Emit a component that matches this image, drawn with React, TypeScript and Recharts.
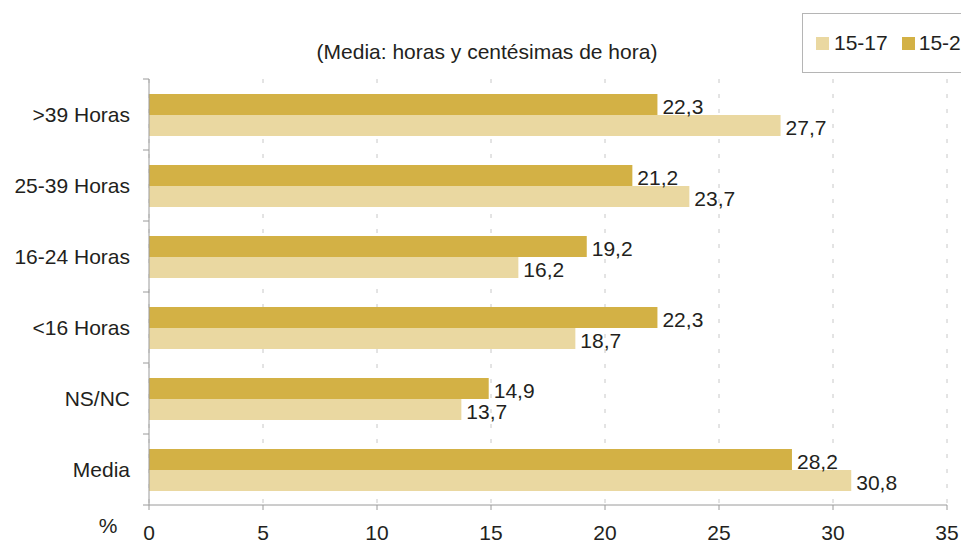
import {
  Bar,
  BarChart,
  CartesianGrid,
  LabelList,
  XAxis,
  YAxis,
} from 'recharts';

const categories = ['>39 Horas', '25-39 Horas', '16-24 Horas', '<16 Horas', 'NS/NC', 'Media'];
const values1529 = [22.3, 21.2, 19.2, 22.3, 14.9, 28.2];
const values1517 = [27.7, 23.7, 16.2, 18.7, 13.7, 30.8];
const xTicks = [0, 5, 10, 15, 20, 25, 30, 35];

const data = categories.map((name, i) => ({
  name,
  a1529: values1529[i],
  a1517: values1517[i],
}));

const LIGHT = '#EAD8A1';
const DARK = '#D3B145';
const FONT = 'Arial, "Liberation Sans", sans-serif';
const FS = 21;
const TEXT = '#231f20';
const AXIS = '#9a9a9a';
const BAND = 71;

const fmt = (v: number) => v.toFixed(1).replace('.', ',');

const CategoryTick = (props: any) => {
  const { x, y, payload, index } = props;
  const ax = x + 19;
  return (
    <g>
      <text x={x} y={y} dy="0.355em" textAnchor="end" fontSize={FS} fontFamily={FONT} fill={TEXT}>
        {payload.value}
      </text>
      <line x1={ax - 6} x2={ax} y1={y - BAND / 2} y2={y - BAND / 2} stroke={AXIS} />
      {index === categories.length - 1 && (
        <line x1={ax - 6} x2={ax} y1={y + BAND / 2} y2={y + BAND / 2} stroke={AXIS} />
      )}
    </g>
  );
};

const ValueLabel = (props: any) => {
  const { x, y, width, height, value } = props;
  return (
    <text
      x={x + width + 5}
      y={y + height / 2 + 2}
      dy="0.355em"
      fontSize={FS}
      fontFamily={FONT}
      fill={TEXT}
    >
      {fmt(value)}
    </text>
  );
};

export default function App() {
  return (
    <div
      style={{
        position: 'relative',
        width: 961,
        height: 543,
        marginBottom: -8,
        overflow: 'hidden',
        background: '#fff',
      }}
    >
      <BarChart
        layout="vertical"
        width={961}
        height={535}
        data={data}
        margin={{ top: 71, right: 22, left: 0, bottom: 0 }}
        barCategoryGap="21%"
        barGap={0}
      >
        <CartesianGrid horizontal={false} stroke="#c8c8c8" strokeDasharray="4 11" />
        <XAxis
          type="number"
          domain={[0, 35]}
          ticks={xTicks}
          height={38}
          stroke={AXIS}
          tickSize={5}
          tickMargin={15}
          tick={{ fontSize: FS, fontFamily: FONT, fill: TEXT }}
          interval={0}
        />
        <YAxis
          type="category"
          dataKey="name"
          width={141}
          stroke={AXIS}
          tickLine={false}
          tickSize={5}
          tickMargin={14}
          tick={<CategoryTick />}
          interval={0}
        />
        <Bar dataKey="a1529" fill={DARK} isAnimationActive={false}>
          <LabelList dataKey="a1529" content={<ValueLabel />} />
        </Bar>
        <Bar dataKey="a1517" fill={LIGHT} isAnimationActive={false}>
          <LabelList dataKey="a1517" content={<ValueLabel />} />
        </Bar>
        <text x={479} y={44} dy="0.355em" textAnchor="middle" fontSize={FS} fontFamily={FONT} fill={TEXT}>
          (Media: horas y centésimas de hora)
        </text>
        <text x={100} y={518} dy="0.355em" textAnchor="middle" fontSize={FS} fontFamily={FONT} fill={TEXT}>
          %
        </text>
      </BarChart>
      <div
        style={{
          position: 'absolute',
          left: 794,
          top: 5,
          width: 250,
          height: 60,
          border: '1.5px solid #b5b5b5',
          fontFamily: FONT,
          fontSize: FS,
          color: TEXT,
          display: 'flex',
          alignItems: 'center',
          paddingLeft: 13,
          boxSizing: 'border-box',
          whiteSpace: 'nowrap',
        }}
      >
        <span style={{ display: 'inline-block', width: 13, height: 13, background: LIGHT, marginRight: 5 }} />
        <span style={{ marginRight: 14 }}>15-17</span>
        <span style={{ display: 'inline-block', width: 13, height: 13, background: DARK, marginRight: 4 }} />
        <span>15-29</span>
      </div>
    </div>
  );
}
